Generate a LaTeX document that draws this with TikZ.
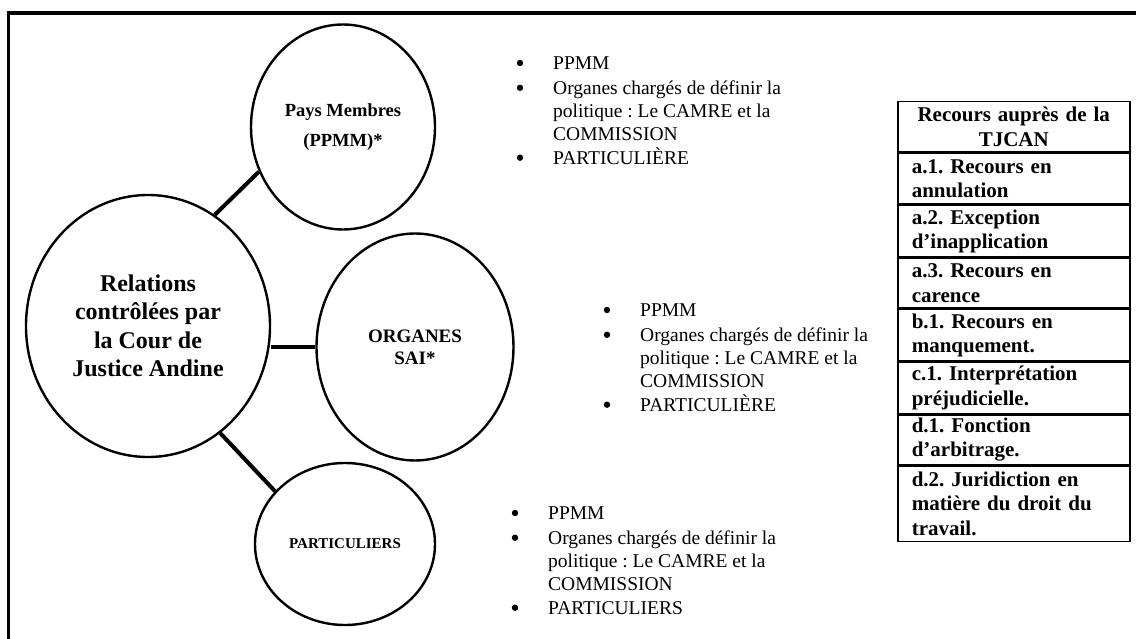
\documentclass[tikz,border=0pt]{standalone}
\usepackage{fontspec}
\setmainfont{Liberation Serif}
\usetikzlibrary{shapes.geometric}
\frenchspacing
\begin{document}
\begin{tikzpicture}[x=1pt,y=-1pt,
  bubble/.style={ellipse,draw,line width=2.4pt,inner sep=0pt,align=center},
  link/.style={line width=4pt},
  lst/.style={anchor=base west,inner sep=0pt,font=\fontsize{19.5}{23.3}\selectfont},
  dot/.style={circle,fill,inner sep=0pt,minimum size=6.4pt},
  cell/.style={draw,line width=1.5pt,anchor=north west,minimum width=232pt,inner xsep=14pt,inner ysep=0pt,text width=204pt,align=left,font=\fontsize{21}{24.5}\selectfont\bfseries},
]
\useasboundingbox (0,0) rectangle (1136,639);
\fill[white] (0,0) rectangle (1136,639);
% frame
\draw[line width=3.8pt] (8.5,639) -- (8.5,13) -- (1136,13);

% bubbles
\node[bubble,minimum width=244pt,minimum height=262pt,font=\fontsize{24}{28.5}\selectfont\bfseries] (big) at (148,326)
  {Relations\\contrôlées par\\la Cour de\\Justice Andine};
\node[bubble,minimum width=184pt,minimum height=205pt,font=\fontsize{18.5}{30}\selectfont\bfseries] (pays) at (343,127)
  {Pays Membres\\(PPMM)*};
\node[bubble,minimum width=197pt,minimum height=227pt,font=\fontsize{19}{22}\selectfont\bfseries] (org) at (415,347)
  {ORGANES\\SAI*};
\node[bubble,minimum width=180pt,minimum height=162pt,font=\fontsize{15}{18}\selectfont\bfseries] (part) at (345,544)
  {PARTICULIERS};

% connectors
\draw[link] (big.59) -- (pays.208);
\draw[link] (org.west) -- (org.west -| big.east);
\draw[link] (big.-56) -- (part.143);

% lists
\node[lst] (l1) at (553,69.5) {\begin{tabular}[t]{@{}l@{}}PPMM\\[1.5pt]Organes chargés de définir la\\politique : Le CAMRE et la\\COMMISSION\\PARTICULIÈRE\end{tabular}};
\node[dot] (b11) at (520,63) {};
\node[dot] (b12) at (520,87.8) {};
\node[dot] (b13) at (520,157.7) {};

\node[lst] (l2) at (640,316.5) {\begin{tabular}[t]{@{}l@{}}PPMM\\[1.5pt]Organes chargés de définir la\\politique : Le CAMRE et la\\COMMISSION\\PARTICULIÈRE\end{tabular}};
\node[dot] (b21) at (607,310) {};
\node[dot] (b22) at (607,334.8) {};
\node[dot] (b23) at (607,404.7) {};

\node[lst] (l3) at (548,519.5) {\begin{tabular}[t]{@{}l@{}}PPMM\\[1.5pt]Organes chargés de définir la\\politique : Le CAMRE et la\\COMMISSION\\PARTICULIERS\end{tabular}};
\node[dot] (b31) at (515,513) {};
\node[dot] (b32) at (515,537.8) {};
\node[dot] (b33) at (515,607.7) {};

% table
\node[cell,align=center,minimum height=50pt] (t0) at (897,101) {Recours auprès de la\\TJCAN};
\node[cell,minimum height=51pt] (t1) at (t0.south west) {a.1. Recours en\\annulation};
\node[cell,minimum height=51pt] (t2) at (t1.south west) {a.2. Exception\\d’inapplication};
\node[cell,minimum height=50pt] (t3) at (t2.south west) {a.3. Recours en\\carence};
\node[cell,minimum height=51pt] (t4) at (t3.south west) {b.1. Recours en\\manquement.};
\node[cell,minimum height=51pt] (t5) at (t4.south west) {c.1. Interprétation\\préjudicielle.};
\node[cell,minimum height=50pt] (t6) at (t5.south west) {d.1. Fonction\\d’arbitrage.};
\node[cell,minimum height=75pt] (t7) at (t6.south west) {d.2. Juridiction en\\matière du droit du\\travail.};
\end{tikzpicture}
\end{document}
